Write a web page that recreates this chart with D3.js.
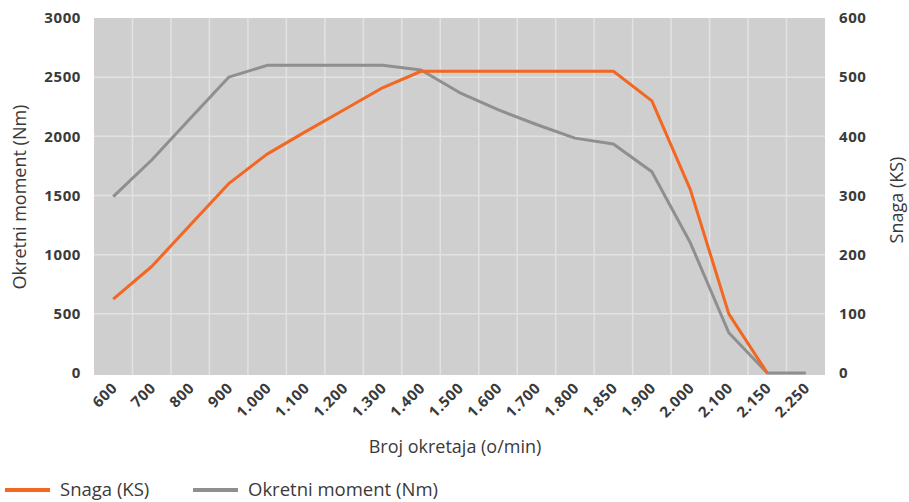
<!DOCTYPE html>
<html><head><meta charset="utf-8">
<script src="https://cdn.jsdelivr.net/npm/d3@7"></script>
<style>
body{margin:0;background:#fff;}
svg{display:block;font-family:"Open Sans",sans-serif;}
</style></head>
<body><svg id="c" width="909" height="502"></svg>
<script>
const categories = ["600","700","800","900","1.000","1.100","1.200","1.300","1.400","1.500","1.600","1.700","1.800","1.850","1.900","2.000","2.100","2.150","2.250"];
const torqueNm = [1490,1800,2150,2500,2600,2600,2600,2600,2560,2370,2225,2100,1985,1935,1700,1100,340,0,0];
const powerKS  = [125,180,250,320,370,408,445,482,510,510,510,510,510,510,460,310,100,0,null];
const leftTicks = [0,500,1000,1500,2000,2500,3000];
const rightTicks = [0,100,200,300,400,500,600];

const svg = d3.select("#c");
const L = 94, R = 825, T = 18, B = 373;
const x = d3.scaleBand().domain(categories).range([L, R]).padding(0);
const yL = d3.scaleLinear().domain([0,3000]).range([B, T]);
const yR = d3.scaleLinear().domain([0,600]).range([B, T]);
const cx = d => x(d) + x.bandwidth()/2;

svg.append("rect").attr("x",L).attr("y",T).attr("width",R-L).attr("height",B-T+2).attr("fill","#cfcfcf");
// grid
svg.append("g").selectAll("line").data(categories.slice(1)).join("line")
  .attr("x1",d=>x(d)).attr("x2",d=>x(d)).attr("y1",T).attr("y2",B+2)
  .attr("stroke","#e2e2e2").attr("stroke-width",1.5);
svg.append("g").selectAll("line").data(leftTicks.filter(v=>v>0&&v<3000)).join("line")
  .attr("x1",L).attr("x2",R).attr("y1",d=>yL(d)).attr("y2",d=>yL(d))
  .attr("stroke","#e2e2e2").attr("stroke-width",1.5);

const txt = "#3a3a3a";
const axL = d3.axisLeft(yL).tickValues(leftTicks).tickFormat(d3.format("d")).tickSize(0).tickPadding(13);
const gL = svg.append("g").attr("transform",`translate(${L},0)`).call(axL);
const axR = d3.axisRight(yR).tickValues(rightTicks).tickFormat(d3.format("d")).tickSize(0).tickPadding(14);
const gR = svg.append("g").attr("transform",`translate(${R},0)`).call(axR);
const axB = d3.axisBottom(x).tickSize(0).tickPadding(0);
const gB = svg.append("g").attr("transform",`translate(0,${B})`).call(axB);
[gL,gR,gB].forEach(g=>{g.select(".domain").remove();
  g.selectAll("text").attr("font-family","Open Sans").attr("font-weight",700).attr("font-size",15).attr("fill",txt).attr("letter-spacing","0.6px");});
gB.selectAll(".tick text").attr("text-anchor","end").attr("dy",0).attr("y",0)
  .attr("transform","translate(5,16) rotate(-45)");

// lines
const lineT = d3.line().x((d,i)=>cx(categories[i])).y(d=>yL(d));
const lineP = d3.line().defined(d=>d!==null).x((d,i)=>cx(categories[i])).y(d=>yR(d));
svg.append("path").datum(torqueNm).attr("d",lineT).attr("fill","none").attr("stroke","#8f8f8f").attr("stroke-width",3).attr("stroke-linejoin","round");
svg.append("path").datum(powerKS).attr("d",lineP).attr("fill","none").attr("stroke","#f26722").attr("stroke-width",3).attr("stroke-linejoin","round");

// titles
svg.append("text").attr("transform","translate(26,197) rotate(-90)").attr("text-anchor","middle")
  .attr("font-size",18).attr("fill",txt).attr("font-weight",500).text("Okretni moment (Nm)");
svg.append("text").attr("transform","translate(903,200) rotate(-90)").attr("text-anchor","middle")
  .attr("font-size",18).attr("fill",txt).attr("font-weight",500).text("Snaga (KS)");
svg.append("text").attr("x",455).attr("y",453).attr("text-anchor","middle")
  .attr("font-size",18).attr("fill",txt).attr("font-weight",500).text("Broj okretaja (o/min)");

// legend
const legend = [{name:"Snaga (KS)",color:"#f26722",x:5},{name:"Okretni moment (Nm)",color:"#8f8f8f",x:193}];
const lg = svg.append("g").selectAll("g").data(legend).join("g").attr("transform",d=>`translate(${d.x},490)`);
lg.append("line").attr("x1",0).attr("x2",45).attr("stroke",d=>d.color).attr("stroke-width",4);
lg.append("text").attr("x",55).attr("dy","0.35em").attr("font-size",18.5).attr("fill",txt).attr("font-weight",500).text(d=>d.name);
</script></body></html>
